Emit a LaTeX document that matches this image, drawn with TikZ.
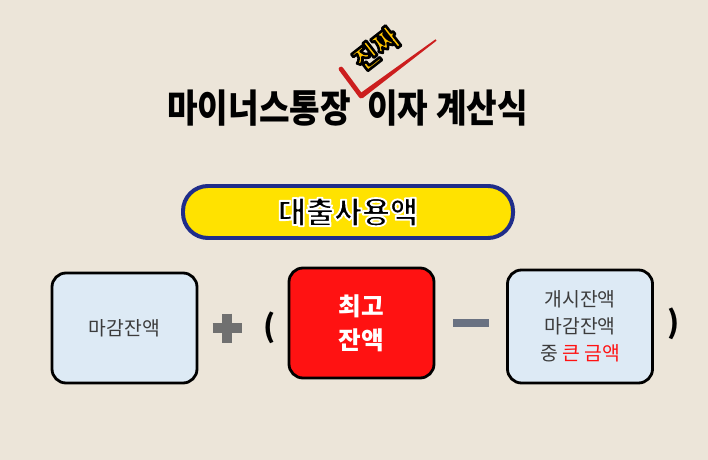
\documentclass[tikz,border=0pt]{standalone}
\usepackage{fontspec}
\setmainfont{Noto Sans CJK KR}
\definecolor{paper}{HTML}{ECE5D9}
\definecolor{boxblue}{HTML}{DDEAF5}
\definecolor{pillyellow}{HTML}{FFE200}
\definecolor{pillblue}{HTML}{1F2D8A}
\definecolor{hotred}{HTML}{FF1212}
\definecolor{checkred}{HTML}{CC1E1E}
\definecolor{signgray}{HTML}{707070}
\definecolor{minusgray}{HTML}{6A7282}
\definecolor{textgray}{HTML}{3C3C3C}
\definecolor{gold}{HTML}{FFC400}

% stroked text: [rim width]{rim rgb}{fill colour}{text}
\newcommand\edged[4][1.4]{{\color{#3}%
  \special{pdf:literal direct #2 RG #1 w 1 j 2 Tr}#4\special{pdf:literal direct 0 Tr}}}

\tikzset{
  amountbox/.style={draw=black, line width=2.4pt, rounded corners=0.42cm,
    minimum width=4.35cm, minimum height=3.3cm, inner sep=0pt, align=center},
  plainbox/.style={amountbox, fill=boxblue, text=textgray,
    font=\fontsize{16.5}{23}\selectfont},
  hotbox/.style={amountbox, fill=hotred, text=white,
    font=\bfseries\fontsize{21}{29}\selectfont},
  paren/.style={font=\bfseries\fontsize{26}{26}\selectfont, inner sep=0pt},
  sign/.style={line width=8.5pt}
}

\begin{document}
\begin{tikzpicture}[x=0.03cm, y=-0.03cm]
\fill[paper] (0,0) rectangle (708,460);

% formula
\node[plainbox] (close) at (124.5,328) {마감잔액};
\node[hotbox] (peak) at (361.5,323) {최고\\잔액};
\node[plainbox, minimum height=3.39cm] (larger) at (580,326.5)
  {개시잔액\\마감잔액\\중 {\color{hotred}큰 금액}};

\coordinate (plus) at (227,328);
\draw[sign, signgray] (plus) ++(-14.5,0) -- ++(29,0);
\draw[sign, signgray] (plus) ++(0,-14.5) -- ++(0,29);
\node[paren] (open) at (270,328) {(};
\coordinate (minus) at (471,323);
\draw[minusgray, line width=7pt] (minus) ++(-18,0) -- ++(36,0);
\node[paren] (shut) at (674,324) {)};

% title
\node[anchor=east, inner sep=0pt, xscale=0.86, transform shape,
  font=\bfseries\fontsize{33}{33}\selectfont] (title1) at (351,108) {마이너스통장};
\node[anchor=west, inner sep=0pt, xscale=0.86, transform shape,
  font=\bfseries\fontsize{33}{33}\selectfont] (title2) at (367,108) {이자 계산식};
\coordinate (chk1) at (341,69);
\coordinate (chk2) at (361,96);
\coordinate (chk3) at (436,40);
\draw[checkred, line width=4pt, line cap=round, line join=round] (chk1) -- (chk2);
\fill[checkred] ([shift={(-1.6,-2.2)}]chk2) -- ([shift={(1.6,2.2)}]chk2)
  -- ([shift={(0.5,0.7)}]chk3) -- ([shift={(-0.5,-0.7)}]chk3) -- cycle;

% loan amount
\node[draw=pillblue, fill=pillyellow, line width=3.4pt, rounded corners=0.75cm,
  minimum width=9.9cm, minimum height=1.56cm,
  font=\bfseries\fontsize{26}{26}\selectfont] (used) at (348,212)
  {\edged[1.6]{1 1 1}{black}{대출사용액}};

\node[rotate=38, inner sep=0pt, font=\bfseries\fontsize{23}{23}\selectfont] (real) at (376,49)
  {\edged[2.2]{0 0 0}{gold}{진짜}};
\end{tikzpicture}
\end{document}
